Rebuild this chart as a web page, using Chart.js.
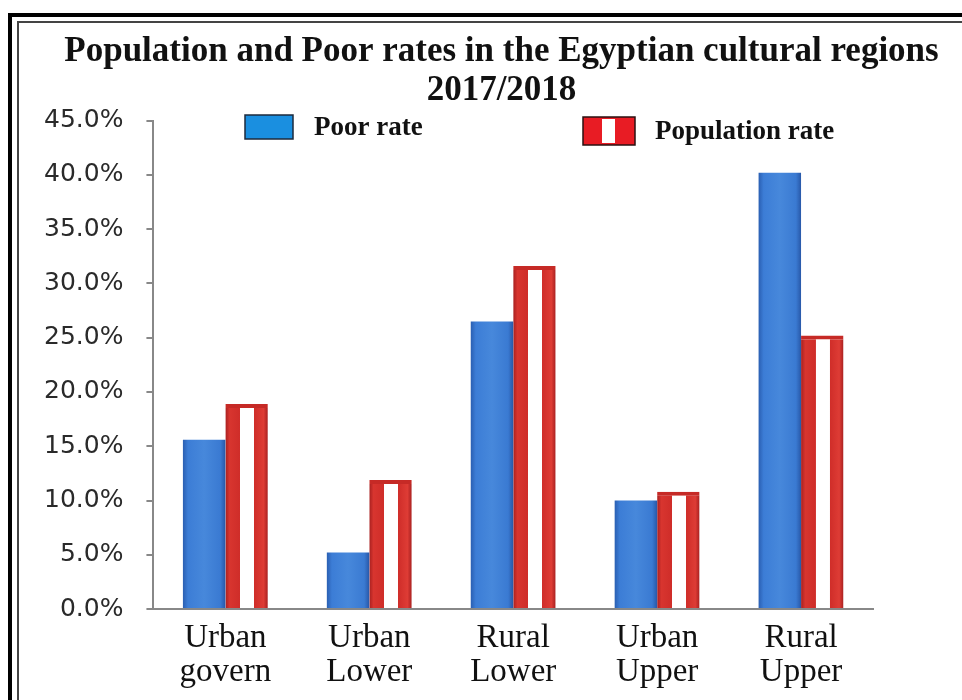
<!DOCTYPE html>
<html>
<head>
<meta charset="utf-8">
<script src="https://cdn.jsdelivr.net/npm/chart.js@4"></script>
<style>
  html, body { margin: 0; padding: 0; background: #fff; overflow: hidden; }
  .frame-outer { position: absolute; left: 8px; top: 13px; width: 1000px; height: 800px; border-left: 4px solid #000; border-top: 4px solid #000; }
  .frame-inner { position: absolute; left: 17px; top: 21px; width: 1000px; height: 800px; border-left: 2px solid #444; border-top: 2px solid #444; }
  #chart { position: absolute; left: 0; top: 0; }
</style>
</head>
<body>
<div class="frame-outer"></div>
<div class="frame-inner"></div>
<canvas id="chart" width="962" height="700"></canvas>
<script>
const regions = [['Urban', 'govern'], ['Urban', 'Lower'], ['Rural', 'Lower'], ['Urban', 'Upper'], ['Rural', 'Upper']];
const poorRate = [15.6, 5.2, 26.5, 10.0, 40.2];
const populationRate = [18.9, 11.9, 31.6, 10.8, 25.2];
const yTicks = [0, 5, 10, 15, 20, 25, 30, 35, 40, 45];

// shaded bars: blue cylinder look, red with a white stripe down the middle
const barShading = {
  id: 'barShading',
  beforeDatasetsDraw(chart) {
    const ctx = chart.ctx;
    chart.data.datasets.forEach((ds, di) => {
      chart.getDatasetMeta(di).data.forEach(bar => {
        const { x, width } = bar.getProps(['x', 'width'], true);
        const g = ctx.createLinearGradient(x - width / 2, 0, x + width / 2, 0);
        if (di === 0) {
          g.addColorStop(0, '#2a5fb2');
          g.addColorStop(0.12, '#3c7dd6');
          g.addColorStop(0.5, '#4788db');
          g.addColorStop(0.88, '#3a7ad2');
          g.addColorStop(1, '#2858a8');
        } else {
          g.addColorStop(0, '#a82020');
          g.addColorStop(0.1, '#d8352f');
          g.addColorStop(0.34, '#cf2d29');
          g.addColorStop(0.35, '#ffffff');
          g.addColorStop(0.67, '#ffffff');
          g.addColorStop(0.68, '#cf2d29');
          g.addColorStop(0.9, '#de3c35');
          g.addColorStop(1, '#a82020');
        }
        bar.options.backgroundColor = g;
      });
    });
  }
};

// legend drawn inside the plot, like the original
const insideLegend = {
  id: 'insideLegend',
  afterDraw(chart) {
    const ctx = chart.ctx;
    const labels = chart.data.datasets.map(d => d.label);
    ctx.save();
    ctx.font = 'bold 27px "Liberation Serif"';
    ctx.textBaseline = 'alphabetic';

    ctx.fillStyle = '#1a8fe0';
    ctx.fillRect(245, 115, 48, 24);
    ctx.strokeStyle = '#1c2a3c';
    ctx.lineWidth = 1.5;
    ctx.strokeRect(245, 115, 48, 24);
    ctx.fillStyle = '#111';
    ctx.fillText(labels[0], 314, 135);

    ctx.fillStyle = '#e81c24';
    ctx.fillRect(583, 117, 52, 28);
    ctx.fillStyle = '#fff';
    ctx.fillRect(602, 119, 13, 24);
    ctx.strokeStyle = '#2a1010';
    ctx.strokeRect(583, 117, 52, 28);
    ctx.fillStyle = '#111';
    ctx.fillText(labels[1], 655, 139);
    ctx.restore();
  }
};

new Chart(document.getElementById('chart'), {
  type: 'bar',
  data: {
    labels: regions,
    datasets: [
      { label: 'Poor rate', data: poorRate, backgroundColor: () => '#3c7dd6', borderWidth: 0 },
      {
        label: 'Population rate', data: populationRate, backgroundColor: () => '#cf2d29',
        borderColor: '#c62a26', borderWidth: { top: 4, left: 0, right: 0, bottom: 0 }, borderSkipped: 'bottom'
      }
    ]
  },
  options: {
    responsive: false,
    animation: false,
    events: [],
    layout: { padding: { left: 21, right: -20, top: 33, bottom: 7 } },
    datasets: { bar: { categoryPercentage: 0.59, barPercentage: 1.0 } },
    plugins: {
      legend: { display: false },
      tooltip: { enabled: false },
      title: {
        display: true,
        text: ['Population and Poor rates in the Egyptian cultural regions', '2017/2018'],
        font: { family: '"Liberation Serif"', size: 35, weight: 'bold', lineHeight: 1.11 },
        color: '#111',
        padding: { top: 0, bottom: 10 }
      }
    },
    scales: {
      x: {
        grid: { display: false },
        border: { display: true, color: '#888', width: 2 },
        ticks: {
          font: { family: '"Liberation Serif"', size: 33, lineHeight: 1.03 },
          color: '#111',
          padding: 4,
          maxRotation: 0
        }
      },
      y: {
        min: 0,
        max: 45,
        afterBuildTicks(scale) { scale.ticks = yTicks.map(v => ({ value: v })); },
        grid: { drawOnChartArea: false, drawTicks: true, tickLength: 7, color: '#888', lineWidth: 2 },
        border: { display: true, color: '#888', width: 2 },
        ticks: {
          font: { family: '"DejaVu Sans"', size: 25 },
          color: '#2a2a2a',
          padding: 23,
          callback: v => v.toFixed(1) + '%'
        }
      },
      // empty right margin, keeps the plot narrower than the title
      yRight: {
        position: 'right',
        min: 0,
        max: 45,
        afterFit(scale) { scale.width = 109; },
        grid: { display: false },
        border: { display: false },
        ticks: { display: false }
      }
    }
  },
  plugins: [barShading, insideLegend]
});
</script>
</body>
</html>
